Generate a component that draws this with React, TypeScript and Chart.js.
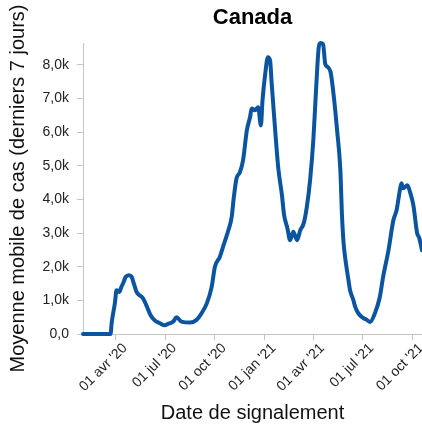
import React, { useEffect, useRef } from "react";
import { Chart, registerables } from "chart.js";

Chart.register(...registerables);

const chartTitle = "Canada";
const xTitle = "Date de signalement";
const yTitle = "Moyenne mobile de cas (derniers 7 jours)";

const dates = [
  "2020-01-31", "2020-03-22", "2020-03-24", "2020-03-30", "2020-04-02", "2020-04-07", "2020-04-11",
  "2020-04-14", "2020-04-19", "2020-04-25", "2020-04-30", "2020-05-03", "2020-05-06", "2020-05-09",
  "2020-05-14", "2020-05-21", "2020-05-27", "2020-06-04", "2020-06-12", "2020-06-21", "2020-06-30",
  "2020-07-06", "2020-07-16", "2020-07-22", "2020-07-31", "2020-08-16", "2020-08-28", "2020-09-06",
  "2020-09-16", "2020-09-25", "2020-10-01", "2020-10-10", "2020-10-16", "2020-10-26", "2020-11-01",
  "2020-11-05", "2020-11-10", "2020-11-16", "2020-11-22", "2020-11-29", "2020-12-05", "2020-12-08",
  "2020-12-14", "2020-12-20", "2020-12-25", "2020-12-28", "2021-01-02", "2021-01-07", "2021-01-11",
  "2021-01-14", "2021-01-20", "2021-01-26", "2021-02-02", "2021-02-06", "2021-02-12", "2021-02-17",
  "2021-02-23", "2021-03-02", "2021-03-08", "2021-03-14", "2021-03-20", "2021-03-26", "2021-04-01",
  "2021-04-06", "2021-04-11", "2021-04-14", "2021-04-19", "2021-04-23", "2021-04-28", "2021-05-03",
  "2021-05-09", "2021-05-15", "2021-05-21", "2021-05-24", "2021-05-27", "2021-05-30", "2021-06-05",
  "2021-06-08", "2021-06-14", "2021-06-17", "2021-06-23", "2021-07-02", "2021-07-09", "2021-07-15",
  "2021-07-24", "2021-08-02", "2021-08-08", "2021-08-18", "2021-08-27", "2021-09-02", "2021-09-08",
  "2021-09-11", "2021-09-14", "2021-09-22", "2021-09-27", "2021-10-03", "2021-10-10", "2021-10-14",
  "2021-10-19",
];

const cases = [
  0, 0, 330, 920, 1300, 1250, 1400,
  1500, 1700, 1750, 1700, 1550, 1400, 1250,
  1160, 1060, 860, 560, 400, 320, 260,
  300, 370, 500, 370, 340, 420, 610,
  910, 1400, 2000, 2290, 2590, 3090, 3480,
  4070, 4630, 4800, 5160, 6050, 6450, 6700,
  6650, 6740, 6200, 6940, 7730, 8230, 8130,
  7440, 6150, 4960, 4120, 3530, 3150, 2790,
  3040, 2790, 3090, 3280, 3780, 4570, 5760,
  7240, 8520, 8650, 8620, 8030, 7930, 7780,
  7040, 6050, 4870, 3530, 2700, 2260, 1600,
  1300, 1010, 830, 620, 480, 420, 360,
  620, 1100, 1690, 2490, 3380, 3680, 4270,
  4480, 4330, 4420, 4210, 3830, 3000, 2850,
  2490,
];

const xStart = "2020-01-31";
const xEnd = "2021-10-19";
const xTickDates = ["2020-04-01", "2020-07-01", "2020-10-01", "2021-01-01", "2021-04-01", "2021-07-01", "2021-10-01"];
const xTickLabels = ["01 avr '20", "01 jul '20", "01 oct '20", "01 jan '21", "01 avr '21", "01 jul '21", "01 oct '21"];
const yTicks = [0, 1000, 2000, 3000, 4000, 5000, 6000, 7000, 8000];
const yTickLabels = ["0,0", "1,0k", "2,0k", "3,0k", "4,0k", "5,0k", "6,0k", "7,0k", "8,0k"];
const yMax = 8650;

const toDay = (s: string) => {
  const [y, m, d] = s.split("-").map(Number);
  return Date.UTC(y, m - 1, d) / 86400000;
};

const FONT = "'Liberation Sans', Arial, Helvetica, sans-serif";
const AXIS = "#c4c4c4";

export default function App() {
  const ref = useRef<HTMLCanvasElement | null>(null);

  useEffect(() => {
    if (!ref.current) return;
    const points = dates.map((d, i) => ({ x: toDay(d), y: cases[i] }));
    const xTickVals = xTickDates.map(toDay);

    const chart = new Chart(ref.current, {
      type: "line",
      data: {
        datasets: [
          {
            data: points,
            borderColor: "#0b55a0",
            borderWidth: 4,
            pointRadius: 0,
            cubicInterpolationMode: "monotone",
            borderJoinStyle: "round",
            borderCapStyle: "round",
            fill: false,
            clip: 4,
          },
        ],
      },
      options: {
        responsive: false,
        animation: false,
        layout: { padding: 0 },
        plugins: {
          legend: { display: false },
          tooltip: { enabled: false },
          title: {
            display: true,
            text: chartTitle,
            fullSize: false,
            color: "#000",
            font: { family: FONT, size: 22, weight: "bold" },
            padding: { top: 5, bottom: 11.6 },
          },
        },
        scales: {
          x: {
            type: "linear",
            min: toDay(xStart),
            max: toDay(xEnd),
            afterBuildTicks: (scale: any) => {
              scale.ticks = xTickVals.map((v) => ({ value: v }));
            },
            afterFit: (scale: any) => {
              scale.height = 93;
              scale.paddingLeft = 0;
              scale.paddingRight = 0;
            },
            grid: { drawOnChartArea: false, drawTicks: true, tickLength: 6, color: AXIS },
            border: { display: true, color: AXIS, width: 1 },
            ticks: {
              autoSkip: false,
              maxRotation: 45,
              minRotation: 45,
              padding: 0,
              labelOffset: 9,
              color: "#222",
              font: { family: FONT, size: 14 },
              callback: (v: any) => {
                const i = xTickVals.indexOf(Number(v));
                return i >= 0 ? xTickLabels[i] : "";
              },
            },
            title: {
              display: true,
              text: xTitle,
              color: "#111",
              font: { family: FONT, size: 20 },
              padding: { top: 0, bottom: 2 },
            },
          },
          y: {
            type: "linear",
            min: 0,
            max: yMax,
            afterBuildTicks: (scale: any) => {
              scale.ticks = yTicks.map((v) => ({ value: v }));
            },
            afterFit: (scale: any) => {
              scale.width = 83;
              scale.paddingTop = 0;
              scale.paddingBottom = 0;
            },
            grid: { drawOnChartArea: false, drawTicks: true, tickLength: 6, color: AXIS },
            border: { display: true, color: AXIS, width: 1 },
            ticks: {
              padding: 8,
              color: "#222",
              font: { family: FONT, size: 14 },
              callback: (v: any) => {
                const i = yTicks.indexOf(Number(v));
                return i >= 0 ? yTickLabels[i] : "";
              },
            },
            title: {
              display: true,
              text: yTitle,
              color: "#111",
              font: { family: FONT, size: 20 },
              padding: { top: 6, bottom: 0 },
            },
          },
        },
      },
    } as any);

    return () => chart.destroy();
  }, []);

  return (
    <canvas
      ref={ref}
      width={422}
      height={427}
      style={{ position: "absolute", left: 0, top: 0, width: 422, height: 427 }}
    />
  );
}
